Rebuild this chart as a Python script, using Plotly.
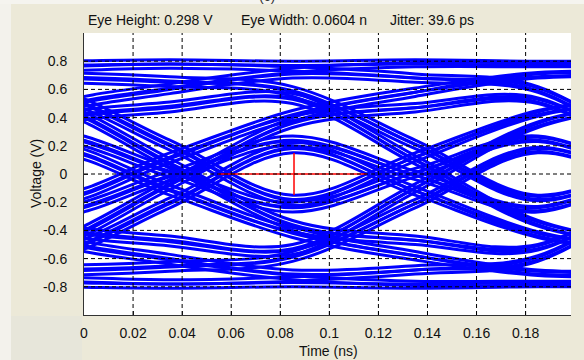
import plotly.graph_objects as go

# ---- data -------------------------------------------------------------
# sample instants (ns): bit boundaries / bit centres around the 0.2 ns window
t_ns = [-0.065, -0.015, 0.035, 0.085, 0.135, 0.185, 0.235]

# waveform voltages (V) at those instants, one list per bit pattern
trace_v_a = [
    [-0.80, -0.80, -0.81, -0.80, -0.81, -0.80, -0.80],
    [-0.76, -0.76, -0.78, -0.76, -0.71, -0.62, -0.09],
    [-0.72, -0.72, -0.69, -0.62, -0.24, 0.15, -0.15],
    [-0.68, -0.68, -0.65, -0.58, -0.13, 0.33, 0.50],
    [-0.64, -0.62, -0.24, 0.15, -0.15, -0.45, -0.56],
    [-0.62, -0.58, -0.20, 0.19, -0.04, -0.27, 0.09],
    [-0.60, -0.54, -0.11, 0.33, 0.44, 0.50, 0.03],
    [-0.58, -0.50, -0.07, 0.37, 0.55, 0.68, 0.68],
    [-0.15, 0.15, -0.15, -0.45, -0.61, -0.72, -0.72],
    [-0.13, 0.19, -0.11, -0.41, -0.50, -0.54, -0.05],
    [-0.11, 0.23, -0.02, -0.27, -0.02, 0.23, -0.11],
    [-0.09, 0.27, 0.02, -0.23, 0.09, 0.41, 0.54],
    [-0.06, 0.33, 0.44, 0.50, 0.07, -0.37, -0.52],
    [-0.04, 0.37, 0.48, 0.54, 0.18, -0.19, 0.13],
    [-0.02, 0.41, 0.57, 0.68, 0.65, 0.58, 0.07],
    [0.00, 0.45, 0.61, 0.72, 0.76, 0.76, 0.76],
    [0.80, 0.80, 0.81, 0.80, 0.81, 0.80, 0.80],
    [0.76, 0.76, 0.78, 0.76, 0.71, 0.62, 0.09],
    [0.72, 0.72, 0.69, 0.62, 0.24, -0.15, 0.15],
    [0.68, 0.68, 0.65, 0.58, 0.13, -0.33, -0.50],
    [0.64, 0.62, 0.24, -0.15, 0.15, 0.45, 0.56],
    [0.62, 0.58, 0.20, -0.19, 0.04, 0.27, -0.09],
    [0.60, 0.54, 0.11, -0.33, -0.44, -0.50, -0.03],
    [0.58, 0.50, 0.07, -0.37, -0.55, -0.68, -0.68],
    [0.15, -0.15, 0.15, 0.45, 0.61, 0.72, 0.72],
    [0.13, -0.19, 0.11, 0.41, 0.50, 0.54, 0.05],
    [0.11, -0.23, 0.02, 0.27, 0.02, -0.23, 0.11],
    [0.09, -0.27, -0.02, 0.23, -0.09, -0.41, -0.54],
    [0.06, -0.33, -0.44, -0.50, -0.07, 0.37, 0.52],
    [0.04, -0.37, -0.48, -0.54, -0.18, 0.19, -0.13],
    [0.02, -0.41, -0.57, -0.68, -0.65, -0.58, -0.07],
    [0.00, -0.45, -0.61, -0.72, -0.76, -0.76, -0.76],
]

# same patterns with the opposite value of the furthest preceding bit
trace_v_b = [
    [-0.77, -0.77, -0.78, -0.77, -0.78, -0.77, -0.77],
    [-0.73, -0.73, -0.75, -0.73, -0.68, -0.59, -0.06],
    [-0.69, -0.69, -0.66, -0.59, -0.21, 0.18, -0.12],
    [-0.65, -0.65, -0.62, -0.55, -0.10, 0.36, 0.53],
    [-0.61, -0.59, -0.21, 0.18, -0.12, -0.42, -0.53],
    [-0.59, -0.55, -0.17, 0.22, -0.01, -0.24, 0.12],
    [-0.57, -0.51, -0.08, 0.36, 0.47, 0.53, 0.06],
    [-0.55, -0.47, -0.04, 0.40, 0.58, 0.71, 0.71],
    [-0.12, 0.18, -0.12, -0.42, -0.58, -0.69, -0.69],
    [-0.10, 0.22, -0.08, -0.38, -0.47, -0.51, -0.02],
    [-0.08, 0.26, 0.01, -0.24, 0.01, 0.26, -0.08],
    [-0.06, 0.30, 0.05, -0.20, 0.12, 0.44, 0.57],
    [-0.03, 0.36, 0.47, 0.53, 0.10, -0.34, -0.49],
    [-0.01, 0.40, 0.51, 0.57, 0.21, -0.16, 0.16],
    [0.01, 0.44, 0.60, 0.71, 0.68, 0.61, 0.10],
    [0.03, 0.48, 0.64, 0.75, 0.79, 0.79, 0.79],
    [0.77, 0.77, 0.78, 0.77, 0.78, 0.77, 0.77],
    [0.73, 0.73, 0.75, 0.73, 0.68, 0.59, 0.06],
    [0.69, 0.69, 0.66, 0.59, 0.21, -0.18, 0.12],
    [0.65, 0.65, 0.62, 0.55, 0.10, -0.36, -0.53],
    [0.61, 0.59, 0.21, -0.18, 0.12, 0.42, 0.53],
    [0.59, 0.55, 0.17, -0.22, 0.01, 0.24, -0.12],
    [0.57, 0.51, 0.08, -0.36, -0.47, -0.53, -0.06],
    [0.55, 0.47, 0.04, -0.40, -0.58, -0.71, -0.71],
    [0.12, -0.18, 0.12, 0.42, 0.58, 0.69, 0.69],
    [0.10, -0.22, 0.08, 0.38, 0.47, 0.51, 0.02],
    [0.08, -0.26, -0.01, 0.24, -0.01, -0.26, 0.08],
    [0.06, -0.30, -0.05, 0.20, -0.12, -0.44, -0.57],
    [0.03, -0.36, -0.47, -0.53, -0.10, 0.34, 0.49],
    [0.01, -0.40, -0.51, -0.57, -0.21, 0.16, -0.16],
    [-0.01, -0.44, -0.60, -0.71, -0.68, -0.61, -0.10],
    [-0.03, -0.48, -0.64, -0.75, -0.79, -0.79, -0.79],
]

# eye measurement markers
eye_width_x = [0.0548, 0.1152]
eye_width_y = [0.0, 0.0]
eye_height_x = [0.0856, 0.0856]
eye_height_y = [-0.149, 0.149]

x_ticks = [0, 0.02, 0.04, 0.06, 0.08, 0.1, 0.12, 0.14, 0.16, 0.18]
x_tick_text = ["0", "0.02", "0.04", "0.06", "0.08", "0.1", "0.12", "0.14", "0.16", "0.18"]
y_ticks = [-0.8, -0.6, -0.4, -0.2, 0, 0.2, 0.4, 0.6, 0.8]
y_tick_text = ["-0.8", "-0.6", "-0.4", "-0.2", "0", "0.2", "0.4", "0.6", "0.8"]

header_texts = ["Eye Height: 0.298 V", "Eye Width: 0.0604 n", "Jitter: 39.6 ps"]
x_title = "Time (ns)"
y_title = "Voltage (V)"

# ---- figure -----------------------------------------------------------
W, H = 584, 360
ML, MR, MT, MB = 84, 13, 33, 45
FONT = "Liberation Sans, Arial, sans-serif"

fig = go.Figure()
for v in trace_v_a + trace_v_b:
    fig.add_trace(go.Scatter(
        x=t_ns, y=v, mode="lines",
        line=dict(color="#0000FF", width=3, shape="spline"),
        hoverinfo="skip", showlegend=False,
    ))

fig.add_trace(go.Scatter(x=eye_width_x, y=eye_width_y, mode="lines",
                         line=dict(color="#FF0000", width=1.5),
                         hoverinfo="skip", showlegend=False))
fig.add_trace(go.Scatter(x=eye_height_x, y=eye_height_y, mode="lines",
                         line=dict(color="#FF0000", width=1.5),
                         hoverinfo="skip", showlegend=False))

shapes = []
# dashed grid drawn above the traces
for xv in x_ticks[1:]:
    shapes.append(dict(type="line", xref="x", yref="paper", x0=xv, x1=xv, y0=0, y1=1,
                       line=dict(color="black", width=1, dash="4px,3px"), layer="above"))
for yv in y_ticks:
    shapes.append(dict(type="line", xref="paper", yref="y", x0=0, x1=1, y0=yv, y1=yv,
                       line=dict(color="black", width=1, dash="4px,3px"), layer="above"))
# window decoration: light strips
pw = W - ML - MR
ph = H - MT - MB
def px_x(p):
    return (p - ML) / pw
def px_y(p):
    return 1 - (p - MT) / ph
shapes.append(dict(type="rect", xref="paper", yref="paper",
                   x0=px_x(0), x1=px_x(11), y0=px_y(H), y1=px_y(0),
                   fillcolor="#F3F2EC", line=dict(width=0), layer="below"))
shapes.append(dict(type="rect", xref="paper", yref="paper",
                   x0=px_x(0), x1=px_x(W), y0=px_y(4), y1=px_y(0),
                   fillcolor="#F5F4EF", line=dict(width=0), layer="below"))
shapes.append(dict(type="rect", xref="paper", yref="paper",
                   x0=px_x(11), x1=px_x(82), y0=px_y(H), y1=px_y(316),
                   fillcolor="#E7E6DA", line=dict(width=0), layer="below"))

annotations = []
header_x_px = [150, 304, 432]
for txt, xp in zip(header_texts, header_x_px):
    annotations.append(dict(text=txt, xref="paper", yref="paper",
                            x=px_x(xp), y=px_y(20), xanchor="center", yanchor="middle",
                            showarrow=False, font=dict(family=FONT, size=14, color="#111111")))
annotations.append(dict(text="(c)", xref="paper", yref="paper",
                        x=px_x(267), y=px_y(-4), xanchor="center", yanchor="middle",
                        showarrow=False, font=dict(family=FONT, size=14, color="#333333")))
annotations.append(dict(text=x_title, xref="paper", yref="paper",
                        x=px_x(328), y=px_y(351), xanchor="center", yanchor="middle",
                        showarrow=False, font=dict(family=FONT, size=14, color="#111111")))
annotations.append(dict(text=y_title, xref="paper", yref="paper", textangle=-90,
                        x=px_x(36), y=px_y(174), xanchor="center", yanchor="middle",
                        showarrow=False, font=dict(family=FONT, size=14, color="#111111")))

fig.update_layout(
    width=W, height=H,
    margin=dict(l=ML, r=MR, t=MT, b=MB, pad=0, autoexpand=False),
    paper_bgcolor="#ECE9D8",
    plot_bgcolor="#FFFFFF",
    font=dict(family=FONT, size=14, color="#111111"),
    shapes=shapes,
    annotations=annotations,
    hovermode=False,
    xaxis=dict(
        range=[0, 0.1985], tickvals=x_ticks, ticktext=x_tick_text,
        showgrid=False, zeroline=False, automargin=False, fixedrange=True,
        showline=True, linecolor="#333333", linewidth=1, mirror=False,
        ticks="inside", ticklen=4, tickcolor="#333333",
        ticklabelstandoff=5,
        tickfont=dict(size=14),
    ),
    yaxis=dict(
        range=[-1, 1], tickvals=y_ticks, ticktext=y_tick_text,
        showgrid=False, zeroline=False, automargin=False, fixedrange=True,
        showline=True, linecolor="#333333", linewidth=1, mirror=False,
        ticks="inside", ticklen=4, tickcolor="#333333",
        ticklabelstandoff=13,
        tickfont=dict(size=14),
    ),
)

fig.write_html("out.html", config={"displayModeBar": False},
               post_script="document.body.style.margin='0';")
